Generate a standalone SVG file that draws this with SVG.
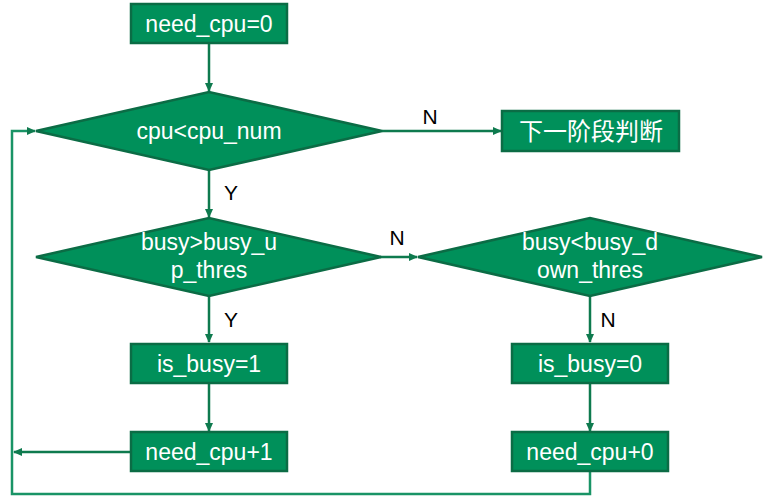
<svg xmlns="http://www.w3.org/2000/svg" width="765" height="503" viewBox="0 0 765 503">
<style>
.n{fill:#00905A;stroke:#0B6C45;stroke-width:2.5}
.t{fill:#fff;font-family:"Liberation Sans",Arial,"Noto Sans CJK SC",sans-serif;font-size:23px;text-anchor:middle}
.cj{font-size:24px}
.l{fill:#000;font-family:"Liberation Sans",Arial,sans-serif;font-size:21px;text-anchor:middle}
.c{fill:none;stroke:#0E7A4E;stroke-width:2.5}
.lp{fill:none;stroke:#199466;stroke-width:2.5}
</style>
<defs>
<marker id="a" markerWidth="10" markerHeight="10" refX="8" refY="5" orient="auto" markerUnits="userSpaceOnUse">
<path d="M0,1 L9,5 L0,9 Z" fill="#0E7A4E"/>
</marker>
</defs>
<rect width="765" height="503" fill="#fff"/>
<g id="connectors">
<path class="c" d="M209,43 V91" marker-end="url(#a)"/>
<path class="c" d="M382,131 H501" marker-end="url(#a)"/>
<path class="c" d="M209,170 V217" marker-end="url(#a)"/>
<path class="c" d="M380,257 H417" marker-end="url(#a)"/>
<path class="c" d="M209,296 V342" marker-end="url(#a)"/>
<path class="c" d="M590,296 V342" marker-end="url(#a)"/>
<path class="c" d="M209,383 V431" marker-end="url(#a)"/>
<path class="c" d="M590,383 V431" marker-end="url(#a)"/>
<path class="c" d="M131,452 H14" marker-end="url(#a)"/>
<path class="lp" d="M590,471 V494 H12 V131 H35" marker-end="url(#a)"/>
<text class="l" x="430" y="124">N</text>
<text class="l" x="231" y="200">Y</text>
<text class="l" x="397" y="245">N</text>
<text class="l" x="231" y="327">Y</text>
<text class="l" x="608" y="327">N</text>
</g>
<g id="start">
<rect class="n" x="131" y="4" width="156" height="39"/>
<text class="t" x="209" y="32">need_cpu=0</text>
</g>
<g id="cond1">
<polygon class="n" points="36,131 209,92 382,131 209,170"/>
<text class="t" x="209" y="139">cpu&lt;cpu_num</text>
</g>
<g id="next">
<rect class="n" x="502" y="111" width="177" height="40"/>
<text class="t cj" x="591" y="140">下一阶段判断</text>
</g>
<g id="cond2">
<polygon class="n" points="36,257 209,218 381,257 209,296"/>
<text class="t" x="209" y="250">busy&gt;busy_u</text>
<text class="t" x="209" y="278">p_thres</text>
</g>
<g id="cond3">
<polygon class="n" points="418,257 590,218 762,257 590,296"/>
<text class="t" x="590" y="250">busy&lt;busy_d</text>
<text class="t" x="590" y="278">own_thres</text>
</g>
<g id="busy1">
<rect class="n" x="131" y="344" width="156" height="39"/>
<text class="t" x="209" y="372">is_busy=1</text>
</g>
<g id="busy0">
<rect class="n" x="512" y="344" width="156" height="39"/>
<text class="t" x="590" y="372">is_busy=0</text>
</g>
<g id="inc1">
<rect class="n" x="131" y="432" width="156" height="39"/>
<text class="t" x="209" y="460">need_cpu+1</text>
</g>
<g id="inc0">
<rect class="n" x="512" y="432" width="156" height="39"/>
<text class="t" x="590" y="460">need_cpu+0</text>
</g>
</svg>
